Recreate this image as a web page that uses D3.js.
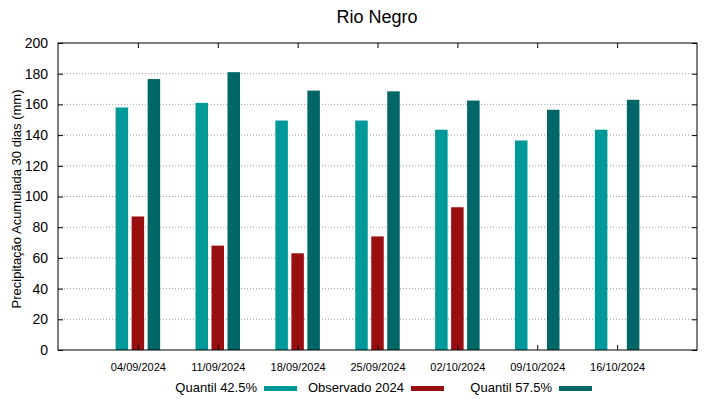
<!DOCTYPE html>
<html>
<head>
<meta charset="utf-8">
<script src="https://cdn.jsdelivr.net/npm/d3@7"></script>
<style>
  body { margin: 0; background: #fff; overflow: hidden; }
  svg { display: block; font-family: "Liberation Sans", Arial, sans-serif; }
</style>
</head>
<body>
<div id="chart"></div>
<script>
var dates = ["04/09/2024", "11/09/2024", "18/09/2024", "25/09/2024", "02/10/2024", "09/10/2024", "16/10/2024"];
var q425 = [158, 161, 149.5, 149.5, 143.5, 136.5, 143.5];
var obs2024 = [87, 68, 63, 74, 93, null, null];
var q575 = [176.5, 181, 169, 168.5, 162.5, 156.5, 163];
var yTicks = [0, 20, 40, 60, 80, 100, 120, 140, 160, 180, 200];

var seriesNames = ["Quantil 42.5%", "Observado 2024", "Quantil 57.5%"];
var colors = ["#009999", "#990f0f", "#006666"];
var series = [q425, obs2024, q575];

const width = 719, height = 399;
const margin = {top: 43, right: 22, bottom: 49, left: 58};
var innerWidth = width - margin.left - margin.right;
var innerHeight = height - margin.top - margin.bottom;

var svg = d3.select("#chart").append("svg")
    .attr("width", width)
    .attr("height", height);

var g = svg.append("g")
    .attr("transform", "translate(" + margin.left + "," + margin.top + ")");

// x: categories sit at 1..7 on a 0..8 axis
var xScale = d3.scaleLinear().domain([0, dates.length + 1]).range([0, innerWidth]);
var yScale = d3.scaleLinear().domain([0, 200]).range([innerHeight, 0]);

var barW = 12.5, barOff = 16;

// dotted grid
g.append("g").selectAll("line")
    .data(yTicks.filter(d => d > 0 && d < 200))
    .enter().append("line")
    .attr("x1", 0).attr("x2", innerWidth)
    .attr("y1", d => yScale(d)).attr("y2", d => yScale(d))
    .attr("stroke", "#a0a0a0")
    .attr("stroke-width", 1)
    .attr("stroke-dasharray", "1,2");

// bars
series.forEach(function(vals, si) {
    g.append("g").selectAll("rect")
        .data(vals.map((v, i) => ({i: i, v: v})).filter(d => d.v != null))
        .enter().append("rect")
        .attr("x", d => xScale(d.i + 1) + (si - 1) * barOff - barW / 2)
        .attr("y", d => yScale(d.v))
        .attr("width", barW)
        .attr("height", d => yScale(0) - yScale(d.v))
        .attr("fill", colors[si]);
});

// axes (gnuplot style: inward ticks, mirrored)
var yAxis = d3.axisLeft(yScale).tickValues(yTicks).tickSize(-5).tickPadding(10);
var yAxisR = d3.axisRight(yScale).tickValues(yTicks).tickSize(-5).tickFormat("");
var xTicks = dates.map((d, i) => i + 1);
var xAxis = d3.axisBottom(xScale).tickValues(xTicks).tickSize(-5).tickPadding(13)
    .tickFormat(d => dates[d - 1]);
var xAxisT = d3.axisTop(xScale).tickValues(xTicks).tickSize(-5).tickFormat("");

var ya = g.append("g").call(yAxis).attr("font-family", null);
ya.selectAll("text").attr("font-size", 14).attr("fill", "#000");
g.append("g").attr("transform", "translate(" + innerWidth + ",0)").call(yAxisR);
var xa = g.append("g").attr("transform", "translate(0," + innerHeight + ")").call(xAxis).attr("font-family", null);
xa.selectAll("text").attr("font-size", 11).attr("fill", "#000");
g.append("g").call(xAxisT);
g.selectAll(".domain").remove();

g.append("rect")
    .attr("width", innerWidth).attr("height", innerHeight)
    .attr("fill", "none").attr("stroke", "#000").attr("stroke-width", 1);

// title
svg.append("text")
    .attr("x", 377).attr("y", 23)
    .attr("text-anchor", "middle")
    .attr("font-size", 18)
    .text("Rio Negro");

// y label
svg.append("text")
    .attr("transform", "translate(21," + 199 + ") rotate(-90)")
    .attr("text-anchor", "middle")
    .attr("font-size", 13)
    .text("Precipitação Acumulada 30 dias (mm)");

// legend
var legendText = [257, 404, 552];
var legendSw = [264, 411, 559];
var legend = svg.append("g");
seriesNames.forEach(function(name, i) {
    legend.append("text")
        .attr("x", legendText[i]).attr("y", 392)
        .attr("text-anchor", "end")
        .attr("font-size", 13)
        .text(name);
    legend.append("rect")
        .attr("x", legendSw[i]).attr("y", 386)
        .attr("width", 33).attr("height", 5)
        .attr("fill", colors[i]);
});
</script>
</body>
</html>
